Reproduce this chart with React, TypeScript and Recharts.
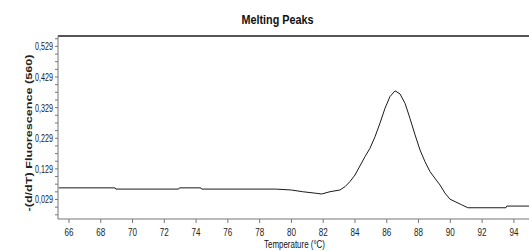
import React from 'react';
import { LineChart, Line, XAxis, YAxis, ReferenceLine } from 'recharts';

// temperature (°C) and -(d/dT) fluorescence readings
const temps = [
  65.35, 68.9, 68.95, 72.9, 72.95, 74.3, 74.35, 79.0, 80.0, 80.7, 81.6, 81.9,
  82.43, 83.05, 83.37, 83.68, 84.0, 84.31, 84.63, 84.94, 85.26, 85.57, 85.89,
  86.2, 86.52, 86.83, 87.15, 87.46, 87.78, 88.09, 88.4, 88.72, 89.03, 89.35,
  89.66, 89.98, 90.3, 90.7, 91.1, 93.5, 93.55, 94.95,
];
const fluor = [
  0.067, 0.067, 0.063, 0.063, 0.067, 0.067, 0.063, 0.063, 0.06, 0.0545, 0.049, 0.047,
  0.0545, 0.06, 0.0708, 0.0872, 0.109, 0.1385, 0.169, 0.196, 0.234, 0.278, 0.327,
  0.365, 0.384, 0.374, 0.343, 0.294, 0.24, 0.191, 0.153, 0.12, 0.0983, 0.0764,
  0.05, 0.03, 0.022, 0.012, 0.002, 0.002, 0.0075, 0.0075,
];

const xTicks = [66, 68, 70, 72, 74, 76, 78, 80, 82, 84, 86, 88, 90, 92, 94];
const yMajor = [0.029, 0.129, 0.229, 0.329, 0.429, 0.529];
const yTicks = [
  -0.021, 0.004, 0.029, 0.054, 0.079, 0.104, 0.129, 0.154, 0.179, 0.204, 0.229,
  0.254, 0.279, 0.304, 0.329, 0.354, 0.379, 0.404, 0.429, 0.454, 0.479, 0.504,
  0.529, 0.554,
];

const data = temps.map((t, i) => ({ t, v: fluor[i] }));

const sans = "'Liberation Sans', Arial, sans-serif";

// condensed look: squeeze glyphs to the widths seen in the reference
const XTick = (props: any) => {
  const { x, y, payload } = props;
  return (
    <text x={x} y={y} dy={9.5} textAnchor="middle" fontSize={11} fill="#222" fontFamily={sans}
      textLength={9} lengthAdjust="spacingAndGlyphs">
      {payload.value}
    </text>
  );
};

const YTick = (props: any) => {
  const { x, y, payload } = props;
  const major = yMajor.some((m) => Math.abs(m - payload.value) < 1e-6);
  if (!major) return null;
  return (
    <text x={x} y={y} dy={4} textAnchor="end" fontSize={11} fill="#222" fontFamily={sans}
      textLength={18} lengthAdjust="spacingAndGlyphs">
      {payload.value.toFixed(3).replace('.', ',')}
    </text>
  );
};

export default function App() {
  return (
    <div style={{ position: 'absolute', left: 0, top: 0, width: 529, height: 251, background: '#fff' }}>
      <LineChart
        width={529}
        height={251}
        data={data}
        margin={{ top: 36, right: 0, bottom: 0, left: 0 }}
        style={{ position: 'absolute', left: 0, top: 0 }}
      >
        <XAxis
          dataKey="t"
          type="number"
          domain={[65.31, 94.95]}
          ticks={xTicks}
          allowDataOverflow
          height={32}
          tickSize={4}
          tickMargin={3}
          stroke="#777"
          tick={<XTick />}
          interval={0}
        />
        <YAxis
          type="number"
          domain={[-0.0347, 0.563]}
          ticks={yTicks}
          allowDataOverflow
          width={58}
          tickSize={3}
          tickMargin={2}
          stroke="#777"
          tick={<YTick />}
          interval={0}
        />
        <ReferenceLine y={0.563} stroke="#555" strokeWidth={2} ifOverflow="extendDomain" />
        <Line
          dataKey="v"
          type="linear"
          stroke="#1a1a1a"
          strokeWidth={1}
          dot={false}
          isAnimationActive={false}
        />
      </LineChart>
      <svg width={529} height={251} style={{ position: 'absolute', left: 0, top: 0, pointerEvents: 'none' }}>
        <text x={277.5} y={24} textAnchor="middle" fontFamily={sans} fontWeight="bold" fontSize={12}
          fill="#111" textLength={72} lengthAdjust="spacingAndGlyphs">
          Melting Peaks
        </text>
        <text x={0} y={0} transform="translate(32,133) rotate(-90)" textAnchor="middle" fontFamily={sans}
          fontWeight="bold" fontSize={9} fill="#222" textLength={157} lengthAdjust="spacingAndGlyphs">
          -(d/dT) Fluorescence (560)
        </text>
        <text x={294.5} y={248} textAnchor="middle" fontFamily={sans} fontSize={11} fill="#111"
          textLength={61} lengthAdjust="spacingAndGlyphs">
          Temperature (°C)
        </text>
      </svg>
    </div>
  );
}
